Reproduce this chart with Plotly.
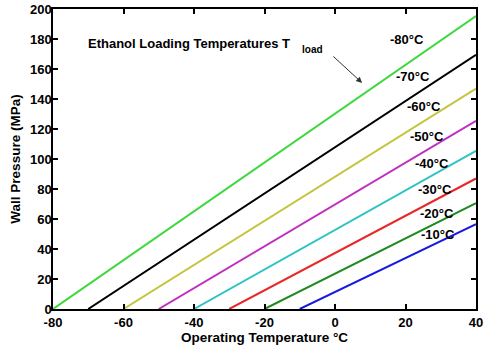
import plotly.graph_objects as go

# Loading temperatures (°C) and wall pressure at 40 °C (MPa)
t_load = [-80, -70, -60, -50, -40, -30, -20, -10]
p_end = [195.3, 169.5, 147.0, 125.5, 105.5, 87.0, 70.5, 56.5]
x_end = 40
colors = ["#3cd83c", "#000000", "#c4c43a", "#c030c0", "#2ec4c4", "#e82828", "#1e8a1e", "#1818e0"]
labels = ["-80°C", "-70°C", "-60°C", "-50°C", "-40°C", "-30°C", "-20°C", "-10°C"]
label_x = [20.4, 22.1, 25.2, 26.1, 27.5, 28.4, 28.9, 29.2]
label_y = [180, 154.7, 134.7, 114.7, 96.7, 80, 64, 50]
x_ticks = [-80, -60, -40, -20, 0, 20, 40]
y_ticks = list(range(0, 201, 20))

FONT = "Liberation Sans, Arial, Helvetica, sans-serif"

fig = go.Figure()
for t, p, c in zip(t_load, p_end, colors):
    fig.add_trace(go.Scatter(x=[t, x_end], y=[0, p], mode="lines",
                             line=dict(color=c, width=2), showlegend=False,
                             hoverinfo="skip"))

for lx, ly, txt in zip(label_x, label_y, labels):
    fig.add_annotation(x=lx, y=ly, text="<b>%s</b>" % txt, showarrow=False,
                       font=dict(family=FONT, size=13, color="black"))

fig.add_annotation(x=-41.4, y=177.3, text="<b>Ethanol Loading Temperatures T</b>",
                   showarrow=False, font=dict(family=FONT, size=13, color="black"))
fig.add_annotation(x=-6.5, y=172.7, text="<b>load</b>", showarrow=False,
                   font=dict(family=FONT, size=10, color="black"))
fig.add_annotation(x=7.7, y=150.7, ax=-0.9, ay=169.3, xref="x", yref="y",
                   axref="x", ayref="y", text="", showarrow=True,
                   arrowhead=2, arrowsize=1.2, arrowwidth=1, arrowcolor="#333333")

axis_common = dict(showline=True, linecolor="black", linewidth=1.5, mirror="ticks",
                   ticks="inside", ticklen=5, tickwidth=1.5, tickcolor="black",
                   showgrid=False, zeroline=False, automargin=False,
                   tickfont=dict(family=FONT, size=13, color="black"))

fig.update_xaxes(range=[-80, 40], tickvals=x_ticks,
                 ticktext=["<b>%d</b>" % v for v in x_ticks],
                 ticklabelstandoff=1,
                 title=dict(text="<b>Operating Temperature °C</b>", standoff=3,
                            font=dict(family=FONT, size=13.5, color="black")),
                 **axis_common)
fig.update_yaxes(range=[0, 200], tickvals=y_ticks,
                 ticktext=["<b>%d</b>" % v for v in y_ticks],
                 ticklabelstandoff=-3,
                 title=dict(text="<b>Wall Pressure (MPa)</b>", standoff=6,
                            font=dict(family=FONT, size=13.5, color="black")),
                 **axis_common)

fig.update_layout(width=485, height=352, margin=dict(l=53, r=9, t=9, b=43),
                  plot_bgcolor="white", paper_bgcolor="white")

# remove the default 8px page margin so the figure fills the window exactly
fig.write_html("out.html", config={"displayModeBar": False},
               post_script="document.body.style.margin='0px';document.body.style.overflow='hidden';")
